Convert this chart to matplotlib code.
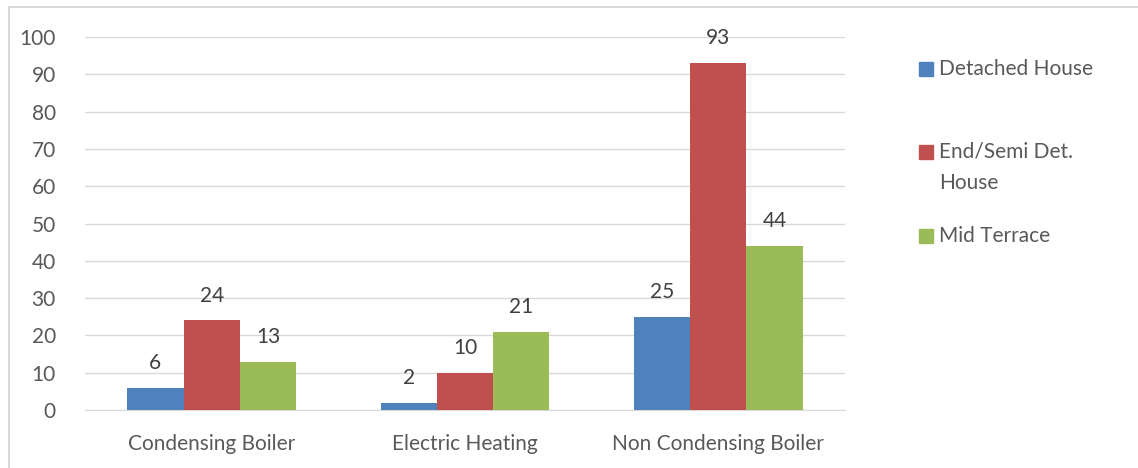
import matplotlib
matplotlib.use("Agg")
import matplotlib.pyplot as plt
import numpy as np
from matplotlib.lines import Line2D

categories = ["Condensing Boiler", "Electric Heating", "Non Condensing Boiler"]
series_names = ["Detached House", "End/Semi Det.\nHouse", "Mid Terrace"]
detached = [6, 2, 25]
end_semi = [24, 10, 93]
mid_terrace = [13, 21, 44]
colors = ["#4f81bd", "#c0504d", "#9bbb59"]
yticks = [0, 10, 20, 30, 40, 50, 60, 70, 80, 90, 100]

plt.rcParams["font.family"] = ["Lato", "DejaVu Sans"]
text_color = "#595959"
fs = 15

fig = plt.figure(figsize=(11.38, 4.68), dpi=100)
W, H = 1138, 468
ax = fig.add_axes([85 / W, 1 - 410 / H, 760 / W, 373 / H])

x = np.arange(len(categories))
bw = 0.222
for i, (vals, c) in enumerate(zip([detached, end_semi, mid_terrace], colors)):
    pos = x + (i - 1) * bw
    bars = ax.bar(pos, vals, width=bw, color=c, zorder=3)
    for b, v in zip(bars, vals):
        ax.text(b.get_x() + b.get_width() / 2, v + 4, str(v), ha="center",
                va="bottom", fontsize=fs, color="#404040")

ax.set_xlim(-0.5, 2.5)
ax.set_ylim(0, 100)
ax.set_yticks(yticks)
ax.set_xticks(x)
ax.set_xticklabels(categories)
ax.grid(axis="y", color="#d9d9d9", linewidth=1, zorder=0)
for s in ["top", "right", "left"]:
    ax.spines[s].set_visible(False)
ax.spines["bottom"].set_color("#d9d9d9")
ax.tick_params(axis="both", length=0, labelsize=fs, colors=text_color)
ax.tick_params(axis="y", pad=21)
ax.tick_params(axis="x", pad=17)

# legend
lx, tx = 919 / W, 939 / W
entries = [(69, 69, series_names[0]), (152, 167, series_names[1]), (236, 236, series_names[2])]
for (sy, ty, name), c in zip(entries, colors):
    fig.patches.append(plt.Rectangle((lx, 1 - (sy + 7) / H), 14 / W, 14 / H,
                                     transform=fig.transFigure, color=c))
    fig.text(tx, 1 - ty / H, name, ha="left", va="center", fontsize=fs,
             color=text_color, linespacing=1.7)

# chart frame
fig.add_artist(Line2D([9 / W, 1], [1 - 7 / H, 1 - 7 / H], color="#d9d9d9", lw=1.5,
                      transform=fig.transFigure))
fig.add_artist(Line2D([9 / W, 9 / W], [0, 1 - 7 / H], color="#d9d9d9", lw=1.5,
                      transform=fig.transFigure))

fig.savefig("out.png", dpi=100, facecolor="white")
